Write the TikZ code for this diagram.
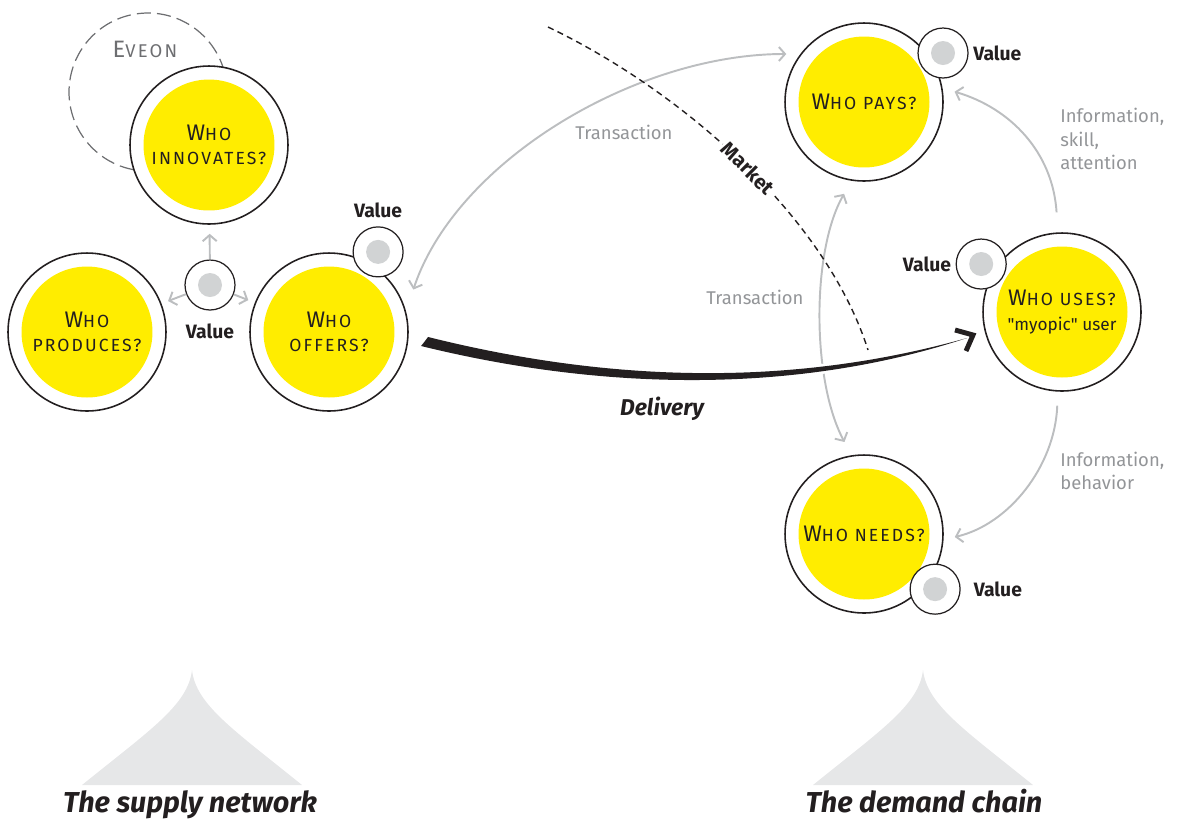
\documentclass[tikz,border=0pt]{standalone}
\usepackage{fontspec}
\setmainfont{Fira Sans}
\newfontfamily\capfont[LetterSpace=12]{Fira Sans}
\newfontfamily\userfont{Fira Sans}
\usepackage{xcolor}
\usetikzlibrary{arrows.meta,positioning,calc}
\definecolor{ink}{HTML}{231F20}
\definecolor{sunny}{HTML}{FFED00}
\definecolor{dotgray}{HTML}{D1D3D4}
\definecolor{flowgray}{HTML}{BCBEC0}
\definecolor{notegray}{HTML}{939598}
\definecolor{hillgray}{HTML}{E6E7E8}
\definecolor{eveongray}{HTML}{6D6E71}
\newcommand\capinit[1]{{\fontsize{12.8}{14}\selectfont #1}}

\begin{document}
\begin{tikzpicture}[
    x=0.02cm, y=-0.02cm,
    >={Straight Barb[length=3.5pt, width=8pt]},
    actor/.style={circle, draw=ink, line width=0.9pt, fill=white, minimum size=3.16cm,
        inner sep=0pt, align=center, text=ink, font=\capfont\fontsize{10}{13.6}\selectfont,
        path picture={\fill[sunny] (path picture bounding box.center) circle[radius=1.31cm];}},
    valuebox/.style={circle, draw=ink, line width=0.7pt, fill=white, minimum size=1cm, inner sep=0pt,
        path picture={\fill[dotgray] (path picture bounding box.center) circle[radius=0.24cm];}},
    eveonring/.style={circle, draw=eveongray, line width=0.7pt, dash pattern=on 8pt off 3.5pt,
        minimum size=3.16cm, inner sep=0pt},
    valuetext/.style={font=\bfseries\fontsize{11}{13}\selectfont, text=ink, inner sep=1pt},
    note/.style={font=\fontsize{10.5}{13.3}\selectfont, text=notegray, align=left, inner sep=0pt},
    flow/.style={draw=flowgray, line width=1.1pt},
    marketline/.style={draw=ink, line width=0.8pt, dash pattern=on 3.5pt off 2.5pt},
    markettext/.style={font=\bfseries\fontsize{11.5}{13}\selectfont, text=ink, fill=white, inner sep=1.5pt},
    deliverytext/.style={font=\bfseries\itshape\fontsize{13}{15}\selectfont, text=ink},
    chaintext/.style={font=\bfseries\itshape\fontsize{16.4}{19}\selectfont, text=ink},
    hill/.style={fill=hillgray}
]
\useasboundingbox (0,0) rectangle (1189,823);

% supply side
\node[eveonring] (eveon) at (148,92) {};
\node[font=\capfont\fontsize{10.5}{12}\selectfont, text=eveongray] (eveonlabel) at (145,49)
    {{\fontsize{13.5}{14}\selectfont E}VEON};
\node[actor] (innovates) at (209,145) {\capinit{W}HO\\INNOVATES?};
\node[actor] (produces) at (87,332) {\capinit{W}HO\\PRODUCES?};
\node[actor] (offers) at (329,332) {\capinit{W}HO\\OFFERS?};

% demand side
\node[actor] (pays) at (864,102) {\capinit{W}HO PAYS?};
\node[actor] (uses) at (1062,312) {\capinit{W}HO USES?\\[1pt]
    {\userfont\fontsize{9.8}{12}\selectfont "myopic" user}};
\node[actor] (needs) at (864,534) {\capinit{W}HO NEEDS?};

% value dots
\node[valuebox] (vinno) at (210,285) {};
\node[valuebox] (voffers) at ($(offers)+(58.5:1.88cm)$) {};
\node[valuebox] (vpays) at ($(pays)+(31.8:1.86cm)$) {};
\node[valuebox] (vuses) at ($(uses)+(149.3:1.88cm)$) {};
\node[valuebox] (vneeds) at ($(needs)+(-37.8:1.8cm)$) {};
\node[valuetext, below=0.22cm of vinno] {Value};
\node[valuetext, above=0.13cm of voffers] {Value};
\node[valuetext, right=0.05cm of vpays] {Value};
\node[valuetext, left=0.05cm of vuses] {Value};
\node[valuetext, right=0.22cm of vneeds] {Value};

\draw[flow, ->, shorten >=0.18cm] (vinno) -- (innovates);
\draw[flow, ->, shorten >=0.14cm] (vinno) -- (produces);
\draw[flow, ->, shorten >=0.14cm] (vinno) -- (offers);

% transactions and information
\draw[flow, <->, shorten <=0.28cm, shorten >=0.46cm]
    (pays.143) .. controls +(-165,0) and +(50,-150) .. (offers.15);
\draw[flow, <->, shorten <=0.3cm, shorten >=0.3cm]
    (pays.-99) .. controls +(-40,70) and +(-40,-75) .. (needs.99);
\draw[flow, ->, shorten <=0.4cm, shorten >=0.25cm]
    (uses.93) .. controls +(-5,-80) and +(68,20) .. (pays.10);
\draw[flow, ->, shorten <=0.28cm, shorten >=0.23cm]
    (uses.-93) .. controls +(-3,75) and +(65,-15) .. (needs.-4);
\node[note] (txtop) at (624,132) {Transaction};
\node[note] (txmid) at (755,297) {Transaction};
\node[note, anchor=west] (infoskill) at (1060,139) {Information,\\skill,\\attention};
\node[note, anchor=west] (infobehav) at (1060,471) {Information,\\behavior};

% market border
\coordinate (marketA) at (548,27);
\coordinate (marketB) at (868,350);
\draw[marketline] (marketA) .. controls (680,90) and (825,215) .. (marketB)
    node[markettext, pos=0.52, sloped] {Market};

% delivery
\coordinate (dfrom) at ($(offers)+(-5.4:1.91cm)$);
\coordinate (dto) at ($(uses)+(195.3:1.97cm)$);
\fill[ink, preaction={draw=white, line width=3pt}]
    ([shift={(4,-4)}]dfrom) .. controls ([shift={(196,44)}]dfrom) and ([shift={(-167,47)}]dto) .. (dto)
    .. controls ([shift={(-157,52)}]dto) and ([shift={(196,54)}]dfrom) .. ([shift={(-3,5)}]dfrom)
    -- ([shift={(1,0)}]dfrom) -- cycle;
\draw[ink, line width=2.8pt, line join=miter]
    ([shift={(-12,-8)}]dto) -- ([shift={(6,-3)}]dto) -- ([shift={(-1,13)}]dto);
\node[deliverytext, anchor=base] (delivery) at (662,415) {Delivery};

% the two chains
\fill[hill] (82,785) .. controls (150,730) and (188,705) .. (192,670)
    .. controls (196,705) and (234,730) .. (302,785) -- cycle;
\fill[hill] (813,785) .. controls (881,730) and (919,705) .. (923,670)
    .. controls (927,705) and (965,730) .. (1033,785) -- cycle;
\node[chaintext, anchor=base] (supply) at (190,812) {The supply network};
\node[chaintext, anchor=base] (demand) at (924,812) {The demand chain};
\end{tikzpicture}
\end{document}
